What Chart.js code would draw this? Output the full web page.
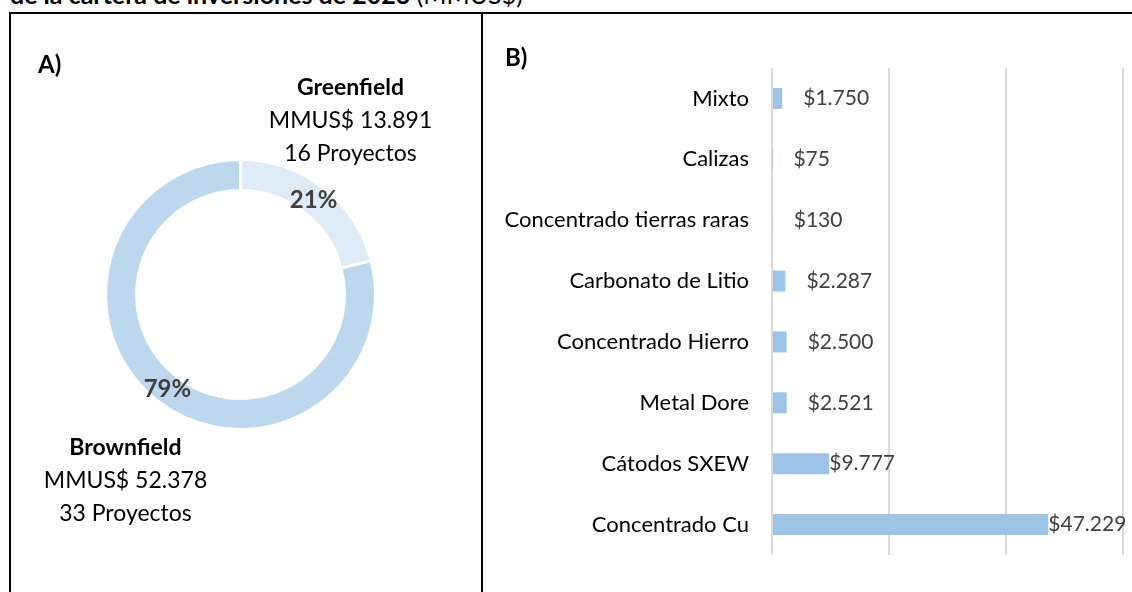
<!DOCTYPE html>
<html>
<head>
<meta charset="utf-8">
<script src="https://cdn.jsdelivr.net/npm/chart.js@4.4.0/dist/chart.umd.min.js"></script>
<style>
  body { margin: 0; background: #fff; width: 1132px; height: 592px; overflow: hidden; position: relative; font-family: Lato, sans-serif; color: #000; }
  #title { position: absolute; left: 10px; top: -18px; font-size: 25px; line-height: 25px; white-space: nowrap; color: #000; }
  #frame { position: absolute; left: 9px; top: 12px; width: 1200px; height: 700px; border-top: 2px solid #000; border-left: 2px solid #000; }
  #divider { position: absolute; left: 481px; top: 12px; width: 2px; height: 600px; background: #000; }
  .tag { position: absolute; font-weight: bold; font-size: 24px; line-height: 24px; }
  .panel { position: absolute; top: 14px; height: 578px; }
  #panelA { left: 11px; width: 470px; }
  #panelB { left: 483px; width: 649px; }
</style>
</head>
<body>
<div id="title"><b>de la cartera de inversiones de 2023</b> <span>(MMUS$)</span></div>
<div id="frame"></div>
<div id="divider"></div>
<div class="panel" id="panelA"><canvas id="donut"></canvas></div>
<div class="panel" id="panelB"><canvas id="bars"></canvas></div>
<div class="tag" style="left:38px; top:52px;">A)</div>
<div class="tag" style="left:505px; top:45px;">B)</div>
<script>
// A) greenfield / brownfield split
const segLabels = ['Greenfield', 'Brownfield'];
const segValues = [13891, 52378];
const segProjects = [16, 33];

// B) investment by product
const barCategories = ['Mixto', 'Calizas', 'Concentrado tierras raras', 'Carbonato de Litio',
  'Concentrado Hierro', 'Metal Dore', 'Cátodos SXEW', 'Concentrado Cu'];
const barValues = [1750, 75, 130, 2287, 2500, 2521, 9777, 47229];
const xTicks = [0, 20000, 40000, 60000];

const FONT = 'Lato';

function fmt(v) {
  return String(v).replace(/\B(?=(\d{3})+(?!\d))/g, '.');
}

const donutText = {
  id: 'donutText',
  afterDatasetsDraw(chart) {
    const ctx = chart.ctx;
    const meta = chart.getDatasetMeta(0);
    const total = segValues.reduce((a, b) => a + b, 0);
    ctx.save();
    ctx.textAlign = 'center';
    ctx.textBaseline = 'middle';
    ctx.fillStyle = '#404040';
    ctx.font = 'bold 24px ' + FONT;
    meta.data.forEach((arc, i) => {
      const p = arc.tooltipPosition();
      ctx.fillText(Math.round(segValues[i] / total * 100) + '%', p.x, p.y);
    });

    // name / amount / project blocks outside the ring
    const cx = meta.data[0].x, cy = meta.data[0].y;
    const spots = [{ dx: 110, dy: -200 }, { dx: -115, dy: 160 }];
    ctx.fillStyle = '#000';
    ctx.textBaseline = 'alphabetic';
    segLabels.forEach((name, i) => {
      const s = spots[i];
      ctx.font = 'bold 23px ' + FONT;
      ctx.fillText(name, cx + s.dx, cy + s.dy);
      ctx.font = '23px ' + FONT;
      ctx.fillText('MMUS$ ' + fmt(segValues[i]), cx + s.dx, cy + s.dy + 33);
      ctx.fillText(segProjects[i] + ' Proyectos', cx + s.dx, cy + s.dy + 66);
    });
    ctx.restore();
  }
};

const valueLabels = {
  id: 'valueLabels',
  afterDatasetsDraw(chart) {
    const ctx = chart.ctx;
    const meta = chart.getDatasetMeta(0);
    ctx.save();
    ctx.font = '21px ' + FONT;
    ctx.fillStyle = '#404040';
    ctx.textAlign = 'left';
    ctx.textBaseline = 'middle';
    meta.data.forEach((bar, i) => {
      const gap = bar.x - bar.base < 30 ? 21 : 0;
      ctx.fillText('$' + fmt(barValues[i]), bar.x + gap, bar.y);
    });
    ctx.restore();
  }
};

new Chart(document.getElementById('donut'), {
  type: 'doughnut',
  data: {
    labels: segLabels,
    datasets: [{
      data: segValues,
      backgroundColor: ['#DEEBF7', '#BDD7EE'],
      borderColor: '#fff',
      borderWidth: 3
    }]
  },
  options: {
    responsive: true,
    maintainAspectRatio: false,
    animation: false,
    cutout: '77%',
    layout: { padding: { left: 93, right: 104, top: 144, bottom: 161 } },
    plugins: { legend: { display: false }, tooltip: { enabled: false } }
  },
  plugins: [donutText]
});

new Chart(document.getElementById('bars'), {
  type: 'bar',
  data: {
    labels: barCategories,
    datasets: [{
      data: barValues,
      backgroundColor: '#9DC3E6',
      barPercentage: 0.345,
      categoryPercentage: 1
    }]
  },
  options: {
    indexAxis: 'y',
    responsive: true,
    maintainAspectRatio: false,
    animation: false,
    layout: { padding: { left: 0, right: 9, top: 54, bottom: 37 } },
    scales: {
      x: {
        min: xTicks[0],
        max: xTicks[xTicks.length - 1],
        afterBuildTicks: (scale) => { scale.ticks = xTicks.map(v => ({ value: v })); },
        ticks: { display: false },
        grid: { color: '#D9D9D9', lineWidth: 2, drawTicks: false },
        border: { display: false }
      },
      y: {
        afterFit: (scale) => { scale.width = 289; },
        ticks: { color: '#000', font: { family: FONT, size: 22 }, padding: 23 },
        grid: { display: false, drawTicks: false },
        border: { display: false }
      }
    },
    plugins: { legend: { display: false }, tooltip: { enabled: false } }
  },
  plugins: [valueLabels]
});
</script>
</body>
</html>
